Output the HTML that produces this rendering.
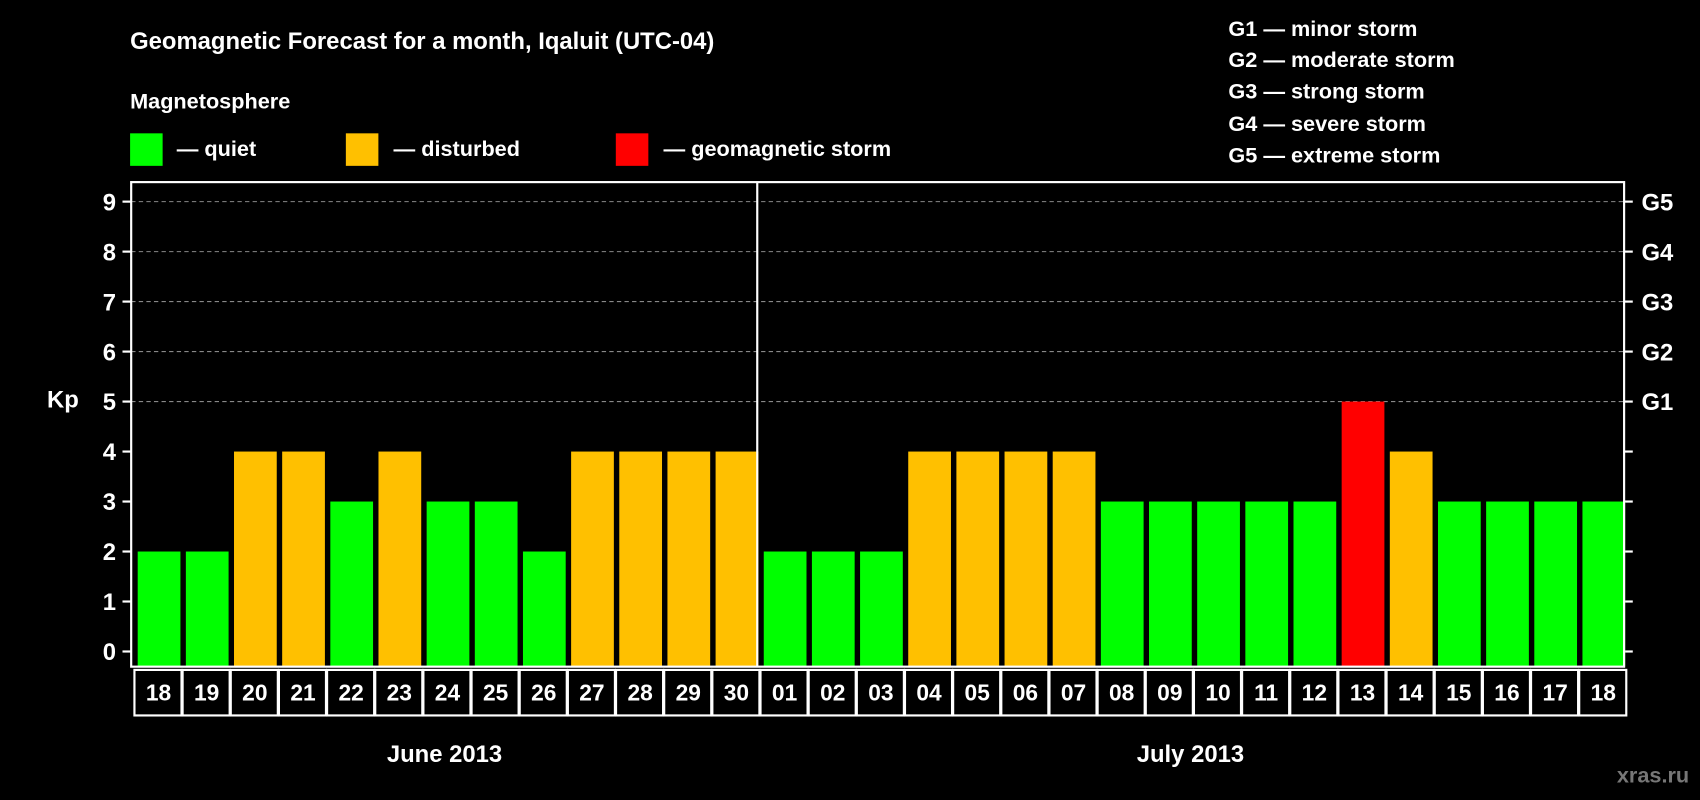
<!DOCTYPE html>
<html><head><meta charset="utf-8"><style>
html,body{margin:0;padding:0;background:#000;}
svg{display:block;font-family:"Liberation Sans",Arial,sans-serif;font-weight:bold;}
</style></head><body>
<svg id="c" width="1700" height="800" viewBox="0 0 1568 738" preserveAspectRatio="none">
<rect width="1568" height="738" fill="#000"/>
<text x="120" y="45" fill="#fff" font-size="22">Geomagnetic Forecast for a month, Iqaluit (UTC-04)</text>
<text x="120" y="100" fill="#fff" font-size="20">Magnetosphere</text>
<g><rect x="120" y="123" width="30" height="30" fill="#00ff00"/><text x="163" y="144" fill="#fff" font-size="20">— quiet</text></g>
<g><rect x="319" y="123" width="30" height="30" fill="#ffc000"/><text x="363" y="144" fill="#fff" font-size="20">— disturbed</text></g>
<g><rect x="568" y="123" width="30" height="30" fill="#ff0000"/><text x="612" y="144" fill="#fff" font-size="20">— geomagnetic storm</text></g>
<g fill="#fff" font-size="20">
<text x="1133" y="33">G1 — minor storm</text>
<text x="1133" y="62">G2 — moderate storm</text>
<text x="1133" y="91">G3 — strong storm</text>
<text x="1133" y="121">G4 — severe storm</text>
<text x="1133" y="150">G5 — extreme storm</text>
</g>
<text x="58" y="376" fill="#fff" font-size="22" text-anchor="middle">Kp</text>
<g id="plot"></g>
<text x="410" y="703" fill="#fff" font-size="22" text-anchor="middle">June 2013</text>
<text x="1098" y="703" fill="#fff" font-size="22" text-anchor="middle">July 2013</text>
<text x="1558" y="722" fill="#777" font-size="20" text-anchor="end">xras.ru</text>
</svg>
<script>
const days=["18","19","20","21","22","23","24","25","26","27","28","29","30","01","02","03","04","05","06","07","08","09","10","11","12","13","14","15","16","17","18"];
const kp=[2,2,4,4,3,4,3,3,2,4,4,4,4,2,2,2,4,4,4,4,3,3,3,3,3,5,4,3,3,3,3];
const yTicks=[0,1,2,3,4,5,6,7,8,9];
const gLabels=["G1","G2","G3","G4","G5"];
const gLevels=[5,6,7,8,9];
const NS="http://www.w3.org/2000/svg";
const L=121,R=1498,T=168,B=615,Y0=601,Y9=186;
const y=v=>Y0-(Y0-Y9)*v/9;
const bw=(R-L)/days.length;
const x=i=>L+i*bw;
const g=document.getElementById('plot');
function mk(t,a){const e=document.createElementNS(NS,t);for(const k in a)e.setAttribute(k,a[k]);g.appendChild(e);return e;}
yTicks.forEach(v=>{
 if(v>=5){const l=mk('line',{x1:L,x2:R,y1:y(v),y2:y(v),stroke:'#888','stroke-dasharray':'4 3','stroke-width':1});
 
 }
 const t=mk('line',{x1:L-8,x2:L,y1:y(v),y2:y(v),stroke:'#fff','stroke-width':2});
 
 
 const t2=mk('line',{x1:R,x2:R+8,y1:y(v),y2:y(v),stroke:'#fff','stroke-width':2});
 
 
 const tx=mk('text',{x:L-14,y:y(v)+8,fill:'#fff','font-size':22,'text-anchor':'end'});tx.textContent=v;
 
 
});
gLabels.forEach((s,i)=>{const t=mk('text',{x:R+16,y:y(gLevels[i])+8,fill:'#fff','font-size':22});t.textContent=s;
 
 });
kp.forEach((v,i)=>{
 const c=v>=5?'#ff0000':v>=4?'#ffc000':'#00ff00';
 const r=mk('rect',{x:x(i)+6,y:y(v),width:bw-5,height:B-y(v),fill:c});
 
 
 const cell=mk('rect',{x:x(i)+3,y:618,width:bw-1,height:42,fill:'none',stroke:'#fff','stroke-width':2});
 
 
 const t=mk('text',{x:x(i)+3+bw/2,y:646,fill:'#fff','font-size':21,'text-anchor':'middle'});t.textContent=days[i];
 
 
});
const fr=mk('rect',{x:L,y:T,width:R-L,height:B-T,fill:'none',stroke:'#fff','stroke-width':2});


const dv=mk('line',{x1:x(13),x2:x(13),y1:T,y2:B,stroke:'#fff','stroke-width':2});


</script>
</body></html>
